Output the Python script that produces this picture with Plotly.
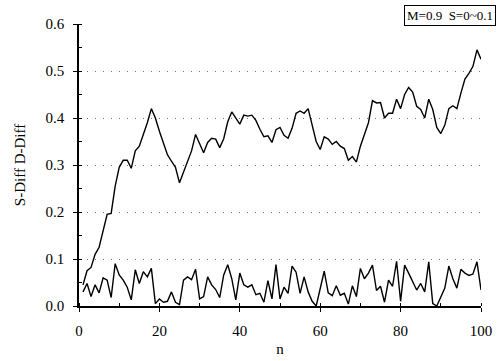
import plotly.graph_objects as go

n = list(range(1, 101))

s_diff = [
    0.045, 0.075, 0.082, 0.11, 0.125, 0.16, 0.195, 0.197, 0.255, 0.295,
    0.31, 0.31, 0.293, 0.33, 0.34, 0.365, 0.39, 0.42, 0.40, 0.372,
    0.345, 0.322, 0.308, 0.295, 0.262, 0.285, 0.31, 0.33, 0.365, 0.346,
    0.326, 0.348, 0.357, 0.355, 0.337, 0.356, 0.392, 0.413, 0.40, 0.387,
    0.406, 0.404, 0.406, 0.395, 0.376, 0.36, 0.362, 0.348, 0.375, 0.38,
    0.363, 0.357, 0.378, 0.41, 0.415, 0.41, 0.42, 0.385, 0.35, 0.333,
    0.36, 0.355, 0.344, 0.35, 0.34, 0.335, 0.31, 0.318, 0.306, 0.34,
    0.365, 0.39, 0.437, 0.432, 0.433, 0.40, 0.41, 0.41, 0.44, 0.42,
    0.45, 0.465, 0.455, 0.425, 0.418, 0.40, 0.44, 0.418, 0.38, 0.367,
    0.385, 0.42, 0.426, 0.42, 0.453, 0.483, 0.495, 0.51, 0.545, 0.525,
]

d_diff = [
    0.03, 0.048, 0.02, 0.045, 0.028, 0.06, 0.055, 0.018, 0.09, 0.066,
    0.055, 0.04, 0.013, 0.077, 0.048, 0.073, 0.062, 0.08, 0.005, 0.015,
    0.008, 0.01, 0.03, 0.008, 0.003, 0.055, 0.062, 0.056, 0.078, 0.015,
    0.02, 0.062, 0.045, 0.035, 0.018, 0.066, 0.088, 0.058, 0.013, 0.07,
    0.045, 0.04, 0.045, 0.024, 0.027, 0.008, 0.054, 0.015, 0.088, 0.015,
    0.04, 0.027, 0.085, 0.072, 0.027, 0.062, 0.03, 0.01, 0.0, 0.034,
    0.074, 0.028, 0.022, 0.043, 0.023, 0.027, 0.004, 0.043, 0.02, 0.08,
    0.058, 0.07, 0.087, 0.033, 0.042, 0.008, 0.055, 0.042, 0.095, 0.01,
    0.087, 0.07, 0.05, 0.034, 0.048, 0.03, 0.094, 0.005, 0.0, 0.018,
    0.038, 0.085, 0.058, 0.038, 0.078, 0.07, 0.065, 0.068, 0.094, 0.034,
]

x_ticks = [0, 20, 40, 60, 80, 100]
y_ticks = [0.0, 0.1, 0.2, 0.3, 0.4, 0.5, 0.6]
y_tick_labels = ["0.0", "0.1", "0.2", "0.3", "0.4", "0.5", "0.6"]
legend_text = "M=0.9  S=0~0.1"

FONT = "Liberation Serif"

fig = go.Figure()
fig.add_trace(go.Scatter(x=n, y=s_diff, mode="lines", name="S-Diff",
                         line=dict(color="black", width=1.4)))
fig.add_trace(go.Scatter(x=n, y=d_diff, mode="lines", name="D-Diff",
                         line=dict(color="black", width=1.4)))

fig.update_layout(
    width=500, height=361,
    margin=dict(l=79, r=19, t=24, b=55),
    paper_bgcolor="white", plot_bgcolor="white",
    showlegend=False,
    font=dict(family=FONT, size=15, color="black"),
    xaxis=dict(
        range=[0, 100], tickvals=x_ticks, showgrid=False, zeroline=False,
        automargin=False,
        showline=True, linecolor="black", linewidth=1.5,
        ticks="outside", ticklen=4, tickwidth=1.2, tickcolor="black",
        ticklabelstandoff=6,
        minor=dict(dtick=10, ticks="inside", ticklen=3, tickcolor="black", showgrid=False),
        title=dict(text="n", font=dict(family=FONT, size=15), standoff=6),
        tickfont=dict(family=FONT, size=15),
    ),
    yaxis=dict(
        range=[0, 0.6], tickvals=y_ticks, ticktext=y_tick_labels,
        showgrid=True, gridcolor="#777777", griddash="1px,7px", gridwidth=1,
        zeroline=False, automargin=False,
        showline=True, linecolor="black", linewidth=1.5,
        ticks="outside", ticklen=4, tickwidth=1.2, tickcolor="black",
        ticklabelstandoff=6,
        minor=dict(dtick=0.05, ticks="inside", ticklen=3, tickcolor="black", showgrid=False),
        title=dict(text="S-Diff D-Diff", font=dict(family=FONT, size=15), standoff=16),
        tickfont=dict(family=FONT, size=15),
    ),
    annotations=[dict(
        text=legend_text, xref="paper", yref="paper", x=1.037, y=1.067,
        xanchor="right", yanchor="top", showarrow=False,
        font=dict(family=FONT, size=13, color="black"),
        bordercolor="black", borderwidth=1, borderpad=2, bgcolor="white",
    )],
)

fig.write_html("out.html", config={"displayModeBar": False},
               post_script="document.body.style.margin='0';")
